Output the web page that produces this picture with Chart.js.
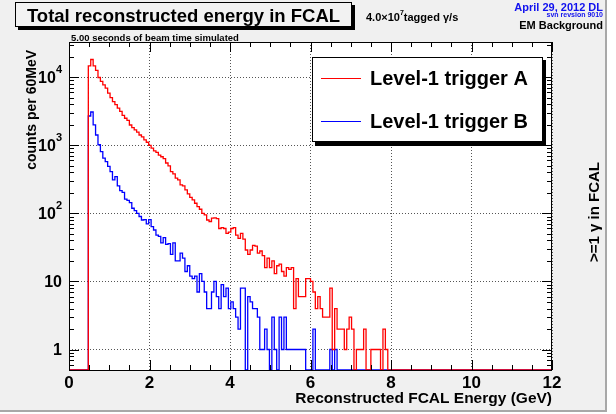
<!DOCTYPE html>
<html>
<head>
<meta charset="utf-8">
<script src="https://cdn.jsdelivr.net/npm/chart.js@4.4.0/dist/chart.umd.min.js"></script>
<style>
html, body { margin: 0; padding: 0; background: #ffffff; }
#wrap { width: 616px; height: 414px; }
</style>
</head>
<body>
<div id="wrap"><canvas id="c" width="616" height="414"></canvas></div>
<script>
// FCAL total energy, 60 MeV bins from 0 to 12 GeV
var nBins = 200;
var binWidth = 0.06;
var firstBin = 8;   // first filled bin (0.48 GeV)
var yMin = 0.5;
var yMax = 33000;

// Level-1 trigger A (red), counts per bin starting at firstBin
var countsA = [
    14750, 18270, 14750, 12600, 9930, 8710, 7760, 6920, 5870, 5030,
    4380, 3960, 3530, 3150, 2750, 2500, 2320, 1990, 1820, 1690,
    1560, 1420, 1330, 1200, 1110, 1000, 910, 830, 790, 720,
    680, 640, 550, 500, 412, 382, 330, 310, 262, 253,
    222, 193, 172, 158, 141, 126, 115, 100, 95, 80,
    76, 85, 86, 84, 60, 62, 60, 51, 53, 60,
    62, 48, 43, 51, 42, 29, 25, 29, 34, 33,
    26, 28, 24, 16, 22, 16, 20, 13, 17, 18,
    14, 12, 16, 15, 16, 4, 11, 6, 6, 6,
    11, 11, 10, 7, 4, 6, 4, 3, 3, 3,
    8, 1, 4, 2, 2, 2, 1, 2, 3, 2,
    0, 1, 1, 1, 2, 0, 0, 1, 1, 1,
    1, 0, 2, 1
];

// Level-1 trigger B (blue)
var countsB = [
    2700, 3090, 2000, 1420, 1020, 810, 650, 575, 490, 410,
    310, 347, 253, 216, 203, 162, 155, 144, 119, 110,
    100, 90, 80, 81, 70, 81, 64, 57, 48, 46,
    37, 44, 35, 36, 25, 37, 20, 20, 26, 22,
    14, 17, 12, 11, 12, 7, 13, 10, 7, 4,
    4, 7, 10, 6, 4, 9, 6, 8, 4, 5,
    4, 3, 2, 8, 8, 0, 6, 5, 4, 4,
    3, 1, 1, 2, 1, 0, 3, 1, 0, 3,
    1, 3, 1, 1, 1, 1, 1, 1, 1, 1,
    0, 0, 0, 2, 0, 0, 0, 0, 0, 0,
    1, 0, 1
];

var xTickValues = [0, 2, 4, 6, 8, 10, 12];
var yTickValues = [1, 10, 100, 1000, 10000];
var yTickBase = ['1', '10', '10', '10', '10'];
var yTickExp = ['', '', '2', '3', '4'];
var seriesNames = ['Level-1 trigger A', 'Level-1 trigger B'];
var seriesColors = ['#ff0000', '#0000ff'];

// empty bins sit on the bottom of the log axis, like ROOT draws them
function histPoints(counts) {
    var pts = [];
    for (var i = 0; i < nBins; i++) {
        var k = i - firstBin;
        var v = (k >= 0 && k < counts.length) ? counts[k] : 0;
        pts.push({ x: i * binWidth, y: v > 0 ? v : yMin });
    }
    pts.push({ x: nBins * binWidth, y: yMin });
    return pts;
}

var FONT = '"Liberation Sans", Arial, Helvetica, sans-serif';

var rootDecor = {
    id: 'rootDecor',
    beforeDraw: function (chart) {
        var ctx = chart.ctx, a = chart.chartArea;
        ctx.save();
        ctx.fillStyle = '#ffffff';
        ctx.fillRect(0, 0, chart.width, chart.height);
        // canvas pad with a dark bevel on bottom and right
        ctx.fillStyle = '#a8a8a8';
        ctx.fillRect(0, 0, 607, 412);
        ctx.fillStyle = '#f0f0f0';
        ctx.fillRect(0, 0, 605, 410);
        ctx.fillStyle = '#ffffff';
        ctx.fillRect(a.left, a.top, a.right - a.left, a.bottom - a.top);
        ctx.restore();
    },
    afterDraw: function (chart) {
        var ctx = chart.ctx, a = chart.chartArea;
        var xs = chart.scales.x, ys = chart.scales.y;
        ctx.save();

        // ticks inside the frame
        ctx.strokeStyle = '#000';
        ctx.lineWidth = 1;
        ctx.beginPath();
        for (var v = 0; v <= 12.001; v += 0.5) {
            var px = Math.round(xs.getPixelForValue(v)) + 0.5;
            var len = (Math.abs(v % 2) < 0.001) ? 10 : 5;
            ctx.moveTo(px, a.bottom); ctx.lineTo(px, a.bottom - len);
            ctx.moveTo(px, a.top); ctx.lineTo(px, a.top + len);
        }
        for (var d = -1; d <= 4; d++) {
            for (var m = 1; m <= 9; m++) {
                var val = m * Math.pow(10, d);
                if (val < ys.min || val > ys.max) continue;
                var py = Math.round(ys.getPixelForValue(val)) + 0.5;
                var l2 = (m === 1) ? 10 : 5;
                ctx.moveTo(a.left, py); ctx.lineTo(a.left + l2, py);
                ctx.moveTo(a.right, py); ctx.lineTo(a.right - l2, py);
            }
        }
        ctx.stroke();

        // frame
        ctx.strokeRect(a.left + 0.5, a.top + 0.5, a.right - a.left - 1, a.bottom - a.top);

        // y tick labels with exponents
        ctx.fillStyle = '#000';
        ctx.textBaseline = 'middle';
        for (var t = 0; t < yTickValues.length; t++) {
            var yy = ys.getPixelForValue(yTickValues[t]);
            var right = a.left - 7;
            ctx.textAlign = 'right';
            if (yTickExp[t]) {
                ctx.font = 'bold 11px ' + FONT;
                var ew = ctx.measureText(yTickExp[t]).width;
                ctx.fillText(yTickExp[t], right, yy - 7);
                ctx.font = 'bold 16px ' + FONT;
                ctx.fillText(yTickBase[t], right - ew, yy + 1);
            } else {
                ctx.font = 'bold 16px ' + FONT;
                ctx.fillText(yTickBase[t], right, yy + 1);
            }
        }

        // axis titles
        ctx.textBaseline = 'alphabetic';
        ctx.textAlign = 'right';
        ctx.font = 'bold 15.5px ' + FONT;
        ctx.fillText('Reconstructed FCAL Energy (GeV)', a.right, 403);

        ctx.save();
        ctx.translate(32, 50);
        ctx.rotate(-Math.PI / 2);
        ctx.textAlign = 'right';
        ctx.textBaseline = 'middle';
        ctx.font = 'bold 14px ' + FONT;
        ctx.fillText('counts per 60MeV', 0, 0);
        ctx.restore();

        ctx.save();
        ctx.translate(595, 212);
        ctx.rotate(-Math.PI / 2);
        ctx.textAlign = 'center';
        ctx.textBaseline = 'middle';
        ctx.font = 'bold 15px ' + FONT;
        ctx.fillText('>=1 \u03b3 in FCAL', 0, 0);
        ctx.restore();

        // title box
        ctx.fillStyle = '#000';
        ctx.fillRect(18, 5, 337, 25);
        ctx.fillStyle = '#f2f2f2';
        ctx.fillRect(15, 2, 337, 25);
        ctx.strokeStyle = '#000';
        ctx.strokeRect(15.5, 2.5, 336, 24);
        ctx.fillStyle = '#000';
        ctx.textAlign = 'center';
        ctx.font = 'bold 18.5px ' + FONT;
        ctx.fillText('Total reconstructed energy in FCAL', 183.5, 21.5);

        // rate text
        ctx.textAlign = 'left';
        ctx.font = 'bold 11px ' + FONT;
        var x0 = 366;
        ctx.fillText('4.0\u00d710', x0, 20.5);
        x0 += ctx.measureText('4.0\u00d710').width;
        ctx.font = 'bold 7px ' + FONT;
        ctx.fillText('7', x0, 15);
        x0 += ctx.measureText('7').width;
        ctx.font = 'bold 11px ' + FONT;
        ctx.fillText('tagged \u03b3/s', x0, 20.5);

        // date / revision / label
        ctx.textAlign = 'right';
        ctx.fillStyle = '#1010ee';
        ctx.font = 'bold 11px ' + FONT;
        ctx.fillText('April 29, 2012 DL', 603, 11);
        ctx.font = 'bold 7px ' + FONT;
        ctx.fillText('svn revsion 9010', 603, 17);
        ctx.fillStyle = '#000';
        ctx.font = 'bold 11px ' + FONT;
        ctx.fillText('EM Background', 603, 28.5);

        ctx.textAlign = 'left';
        ctx.font = 'bold 9.5px ' + FONT;
        ctx.fillText('5.00 seconds of beam time simulated', 71, 40.5);

        // legend
        ctx.fillStyle = '#000';
        ctx.fillRect(315, 60, 231, 86);
        ctx.fillStyle = '#fff';
        ctx.fillRect(312, 57, 231, 85);
        ctx.strokeStyle = '#000';
        ctx.strokeRect(312.5, 57.5, 230, 84);
        var ly = [78.5, 121.5];
        for (var s = 0; s < seriesNames.length; s++) {
            ctx.strokeStyle = seriesColors[s];
            ctx.lineWidth = 1.2;
            ctx.beginPath();
            ctx.moveTo(321, ly[s]); ctx.lineTo(361, ly[s]);
            ctx.stroke();
            ctx.fillStyle = '#000';
            ctx.font = 'bold 20px ' + FONT;
            ctx.textAlign = 'left';
            ctx.fillText(seriesNames[s], 370, ly[s] + 6.5);
        }

        ctx.restore();
    }
};

new Chart(document.getElementById('c'), {
    type: 'line',
    data: {
        datasets: [
            {
                label: seriesNames[0],
                data: histPoints(countsA),
                borderColor: seriesColors[0],
                borderWidth: 1.3,
                pointRadius: 0,
                stepped: 'before',
                fill: false
            },
            {
                label: seriesNames[1],
                data: histPoints(countsB),
                borderColor: seriesColors[1],
                borderWidth: 1.3,
                pointRadius: 0,
                stepped: 'before',
                fill: false
            }
        ]
    },
    options: {
        responsive: false,
        animation: false,
        layout: { padding: { left: 0, top: 42, right: 64, bottom: 0 } },
        plugins: {
            legend: { display: false },
            tooltip: { enabled: false }
        },
        scales: {
            x: {
                type: 'linear',
                min: 0,
                max: 12,
                afterBuildTicks: function (s) {
                    s.ticks = xTickValues.map(function (v) { return { value: v }; });
                },
                afterFit: function (s) { s.height = 44; },
                ticks: {
                    color: '#000',
                    padding: 3,
                    maxRotation: 0,
                    autoSkip: false,
                    font: { family: FONT, weight: 'bold', size: 17 }
                },
                grid: { color: '#555', lineWidth: 1, drawTicks: false },
                border: { display: false, dash: [1, 2] }
            },
            y: {
                type: 'logarithmic',
                min: yMin,
                max: yMax,
                afterBuildTicks: function (s) {
                    s.ticks = yTickValues.map(function (v) { return { value: v }; });
                },
                afterFit: function (s) { s.width = 69; },
                ticks: { display: false },
                grid: { color: '#555', lineWidth: 1, drawTicks: false },
                border: { display: false, dash: [1, 2] }
            }
        }
    },
    plugins: [rootDecor]
});
</script>
</body>
</html>
